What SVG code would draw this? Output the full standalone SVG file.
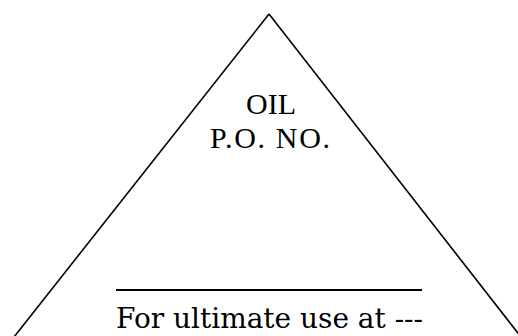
<svg xmlns="http://www.w3.org/2000/svg" width="518" height="336" viewBox="0 0 518 336">
<style>
.edge{stroke:#000;stroke-width:1.6;fill:none}
.t1{font-family:"Liberation Serif",serif;font-size:30px;fill:#000;text-anchor:middle}
.t2{font-family:"DejaVu Serif","Liberation Serif",serif;font-size:27px;fill:#000}
</style>
<rect width="518" height="336" fill="#fff"/>
<g id="connectors">
<line class="edge" x1="269" y1="14" x2="14" y2="337"/>
<line class="edge" x1="269" y1="14" x2="521" y2="337"/>
</g>
<g id="label-top">
<text class="t1" x="271" y="114">OIL</text>
<text class="t1" x="270" y="148" textLength="120" lengthAdjust="spacing">P.O. NO.</text>
</g>
<g id="label-bottom">
<line x1="116" y1="290" x2="422" y2="290" stroke="#000" stroke-width="1.8"/>
<text class="t2" x="116" y="328" textLength="307" lengthAdjust="spacingAndGlyphs">For ultimate use at ---</text>
</g>
</svg>
